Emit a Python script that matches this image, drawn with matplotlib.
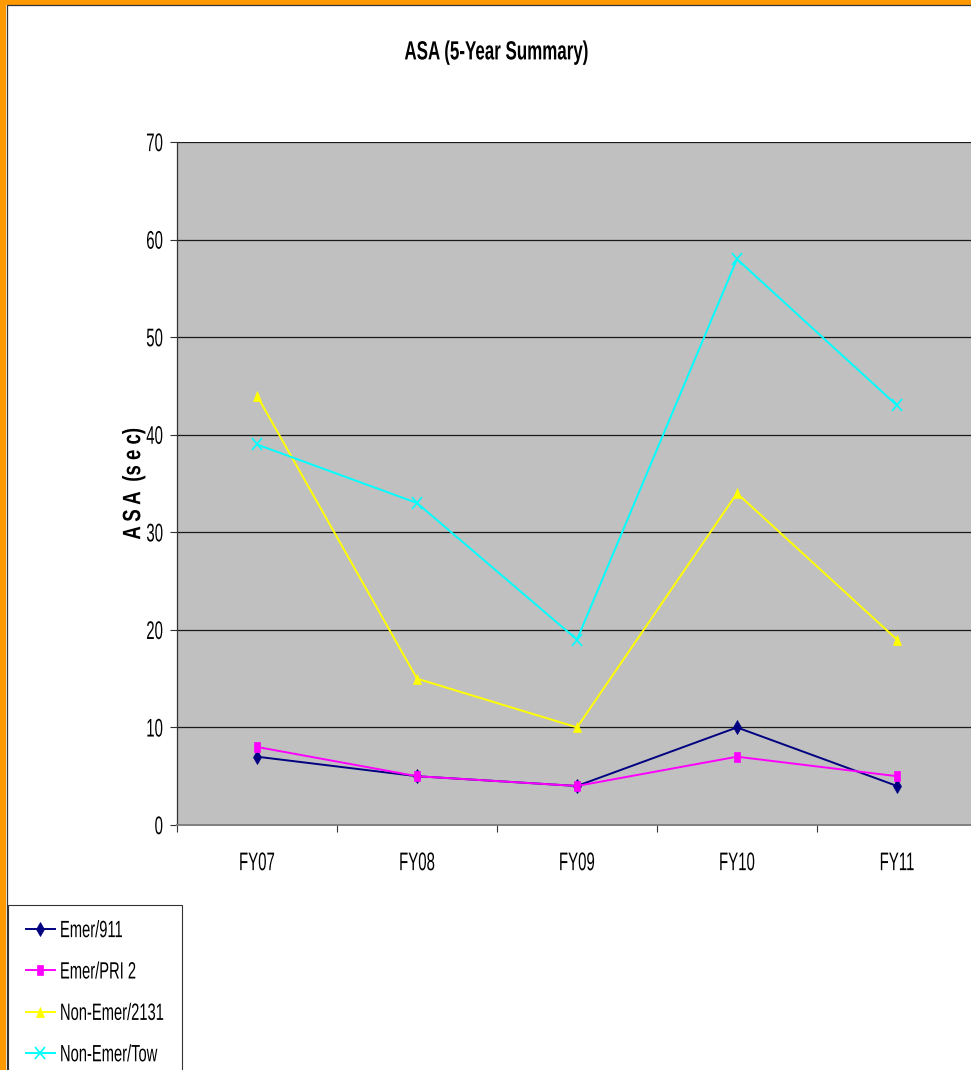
import matplotlib
matplotlib.use("Agg")
import matplotlib.pyplot as plt
from matplotlib.patches import Rectangle
from matplotlib.patheffects import AbstractPathEffect
from matplotlib.markers import MarkerStyle
from matplotlib.path import Path
from matplotlib.transforms import Affine2D

years = ["FY07", "FY08", "FY09", "FY10", "FY11"]
emer_911 = [7, 5, 4, 10, 4]
emer_pri2 = [8, 5, 4, 7, 5]
non_emer_2131 = [44, 15, 10, 34, 19]
non_emer_tow = [39, 33, 19, 58, 43]

plt.rcParams["font.family"] = ["Liberation Sans", "DejaVu Sans"]


class Tall(AbstractPathEffect):
    """Stretch glyphs vertically about their own middle (narrow, tall lettering)."""

    def __init__(self, sy):
        super().__init__()
        self.sy = sy

    def draw_path(self, renderer, gc, tpath, affine, rgbFace=None):
        verts = tpath.vertices
        if tpath.codes is not None:
            verts = verts[tpath.codes != Path.CLOSEPOLY]
        mid = (verts[:, 1].min() + verts[:, 1].max()) / 2 if len(verts) else 0
        stretch = Affine2D().translate(0, -mid).scale(1, self.sy).translate(0, mid)
        renderer.draw_path(gc, tpath, stretch + affine, rgbFace)


def tall_marker(kind, sy):
    return MarkerStyle(kind, transform=Affine2D().scale(1, sy))


W, H = 971, 1070
fig = plt.figure(figsize=(W / 100, H / 100), dpi=100)

# orange frame, right and bottom edges run off the canvas
fig.patches.append(Rectangle((3 / W, -0.1), 1.2, 1.1 - 2.5 / H, transform=fig.transFigure,
                             fill=False, edgecolor="#FF9900", linewidth=4.5, zorder=0))
fig.patches.append(Rectangle((6.5 / W, -0.1), 1.2, 1.1 - 5 / H, transform=fig.transFigure,
                             fill=False, edgecolor="#333333", linewidth=0.9, zorder=0))

left, right, top, bottom = 177, 977, 142, 825
ax = fig.add_axes([left / W, 1 - bottom / H, (right - left) / W, (bottom - top) / H])
ax.set_facecolor("#C0C0C0")

x = range(len(years))
series = [
    ("Emer/911", emer_911, "#000080", tall_marker("D", 1.7), 4.0, 0.5),
    ("Emer/PRI 2", emer_pri2, "#FF00FF", tall_marker("s", 1.6), 4.8, 0.5),
    ("Non-Emer/2131", non_emer_2131, "#FFFF00", tall_marker("^", 1.3), 5.5, 0.5),
    ("Non-Emer/Tow", non_emer_tow, "#00FFFF", tall_marker("x", 1.2), 7.0, 1.2),
]
for label, vals, color, marker, ms, mew in series:
    ax.plot(x, vals, color=color, marker=marker, markersize=ms, linewidth=1.4,
            markeredgewidth=mew, markeredgecolor=color, label=label, zorder=3)

ax.set_xlim(-0.5, 4.5)
ax.set_ylim(0, 70)
ax.set_yticks(range(0, 71, 10))
ax.yaxis.grid(True, color="#1a1a1a", linewidth=0.9)
ax.set_axisbelow(True)

# category labels sit between the boundary ticks
ax.set_xticks([i + 0.5 for i in range(-1, 5)])
ax.set_xticklabels([])
ax.set_xticks(list(x), minor=True)
ax.set_xticklabels(years, minor=True)
ax.tick_params(axis="x", which="major", direction="out", length=5, color="#333333")
ax.tick_params(axis="x", which="minor", length=0, pad=22, labelsize=10.8)
ax.tick_params(axis="y", direction="out", length=5, color="#333333", labelsize=10.8, pad=5)

for side in ("right", "top"):
    ax.spines[side].set_visible(False)
ax.spines["left"].set_color("#333333")
ax.spines["left"].set_linewidth(0.9)
ax.spines["bottom"].set_color("#808080")
ax.spines["bottom"].set_linewidth(1.4)

for lbl in ax.get_yticklabels() + ax.get_xticklabels(minor=True):
    lbl.set_path_effects([Tall(1.7)])

ylab = fig.text(134 / W, 1 - 484 / H, "A S A  (s e c)", rotation=90, ha="center",
                va="center", fontsize=13.4, fontweight="bold")
ylab.set_path_effects([Tall(1.35)])

title = fig.text(496 / W, 1 - 52.5 / H, "ASA (5-Year Summary)", ha="center",
                 va="center", fontsize=12.2, fontweight="bold")
title.set_path_effects([Tall(1.55)])

leg = fig.legend(loc="upper left", bbox_to_anchor=(8 / W, 1 - 905 / H), borderaxespad=0,
                 fontsize=10.6, frameon=True, fancybox=False, edgecolor="black",
                 handlelength=1.97, handletextpad=0.34, labelspacing=1.86,
                 borderpad=1.22)
leg.get_frame().set_linewidth(0.8)
for t in leg.get_texts():
    t.set_path_effects([Tall(1.6)])

fig.savefig("out.png", dpi=100, facecolor="white")
